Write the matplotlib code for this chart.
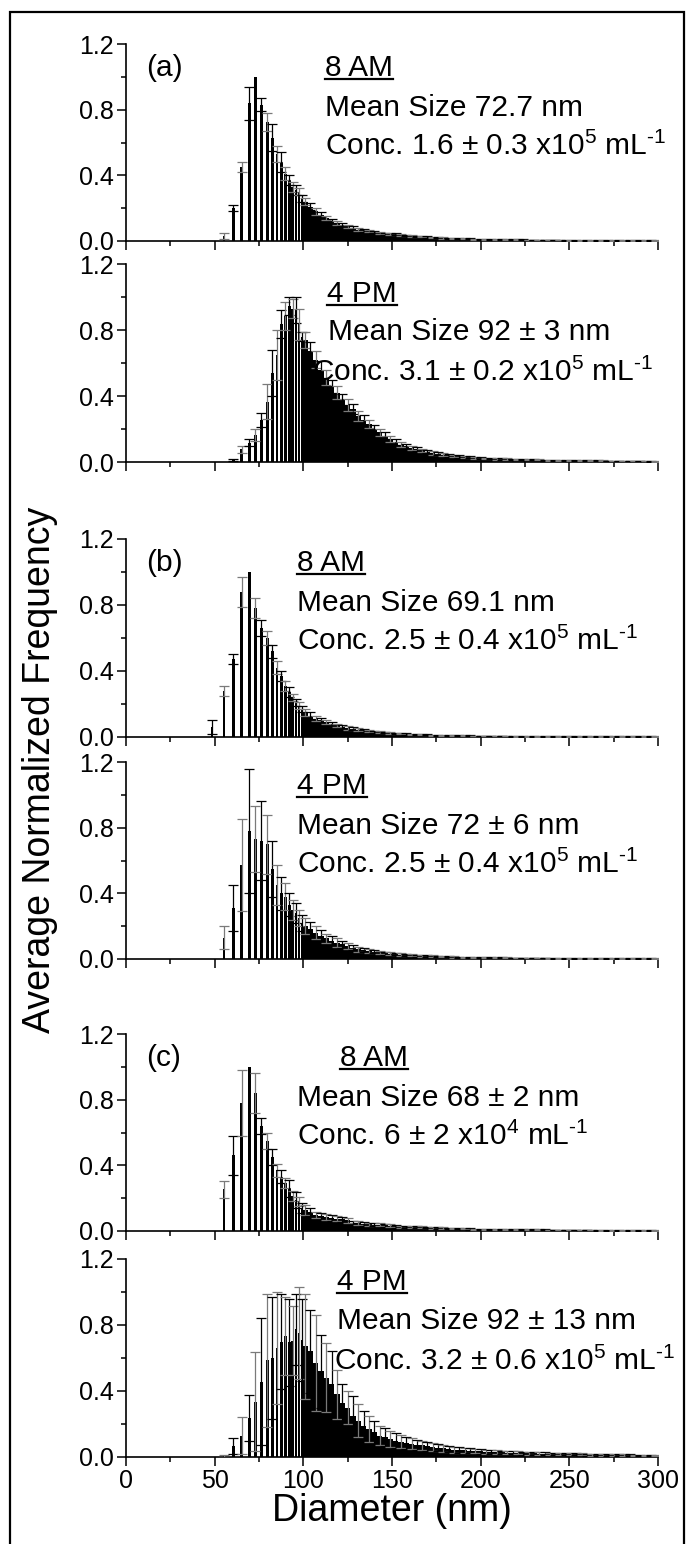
import numpy as np
import matplotlib
matplotlib.use("Agg")
import matplotlib.pyplot as plt
from matplotlib.lines import Line2D
from matplotlib.patches import Rectangle

plt.rcParams['font.family'] = ['Liberation Sans', 'DejaVu Sans']
plt.rcParams['mathtext.fontset'] = 'custom'
plt.rcParams['mathtext.rm'] = 'Liberation Sans'
plt.rcParams['mathtext.it'] = 'Liberation Sans:italic'
plt.rcParams['mathtext.bf'] = 'Liberation Sans:bold'

# ---------------- data ----------------
# populated size bins below 100 nm (nm)
low_d = [48.5, 55.3, 60.5, 65.2, 69.5, 72.9, 76.3, 79.7, 82.5, 85.1, 87.6,
         89.8, 92.1, 94.0, 95.9, 97.6, 99.3]
# tail bins from 101 nm to 299 nm, 3 nm apart
tail_d = list(range(101, 300, 3))

a8_low = [0.0, 0.03, 0.20, 0.45, 0.84, 1.00, 0.83, 0.725, 0.63, 0.53, 0.48,
          0.41, 0.37, 0.33, 0.31, 0.30, 0.26]
a8_low_err = [0.0, 0.02, 0.02, 0.03, 0.10, 0.0, 0.04, 0.055, 0.08, 0.05, 0.06,
              0.04, 0.03, 0.03, 0.03, 0.02, 0.02]
a8_tail = [0.24, 0.21, 0.18, 0.16, 0.14, 0.12, 0.11, 0.10, 0.09, 0.08, 0.07, 0.065,
           0.06, 0.055, 0.05, 0.045, 0.042, 0.04, 0.036, 0.033, 0.03, 0.028, 0.026,
           0.024, 0.022, 0.02, 0.019, 0.018, 0.016, 0.015, 0.014, 0.013, 0.012, 0.011,
           0.011, 0.010, 0.010, 0.009, 0.009, 0.008, 0.008, 0.008, 0.007, 0.007, 0.007,
           0.006, 0.006, 0.006, 0.006, 0.005, 0.005, 0.005, 0.005, 0.005, 0.004, 0.004,
           0.004, 0.004, 0.004, 0.004, 0.003, 0.003, 0.003, 0.003, 0.003, 0.003, 0.003]
a8_tail_err = [0.02, 0.02, 0.02, 0.015, 0.015, 0.012, 0.012, 0.01, 0.01, 0.01, 0.008,
               0.008, 0.008, 0.007, 0.007, 0.006, 0.006, 0.006, 0.005, 0.005, 0.005,
               0.005, 0.004, 0.004, 0.004, 0.004, 0.004, 0.003, 0.003, 0.003, 0.003,
               0.003, 0.003, 0.003, 0.003, 0.003, 0.003, 0.002, 0.002, 0.002, 0.002,
               0.002, 0.002, 0.002, 0.002, 0.002, 0.002, 0.002, 0.002, 0.002, 0.002,
               0.002, 0.002, 0.002, 0.002, 0.002, 0.002, 0.002, 0.002, 0.002, 0.002,
               0.002, 0.002, 0.002, 0.002, 0.002, 0.002]

a4_low = [0.0, 0.0, 0.012, 0.077, 0.117, 0.165, 0.255, 0.365, 0.54, 0.65, 0.835,
          0.885, 0.945, 0.93, 0.92, 0.835, 0.76]
a4_low_err = [0.0, 0.0, 0.008, 0.02, 0.023, 0.035, 0.04, 0.105, 0.14, 0.15, 0.085,
              0.085, 0.055, 0.06, 0.08, 0.095, 0.025]
a4_tail = [0.74, 0.67, 0.62, 0.56, 0.51, 0.46, 0.42, 0.38, 0.345, 0.32, 0.28, 0.255,
           0.23, 0.20, 0.18, 0.16, 0.14, 0.12, 0.105, 0.095, 0.085, 0.077, 0.07, 0.062,
           0.055, 0.05, 0.045, 0.04, 0.037, 0.034, 0.031, 0.028, 0.026, 0.024,
           0.022, 0.021, 0.02, 0.019, 0.018, 0.017, 0.016, 0.015, 0.014, 0.014, 0.013,
           0.012, 0.012, 0.011, 0.011, 0.010, 0.010, 0.009, 0.009, 0.009, 0.008, 0.008,
           0.008, 0.007, 0.007, 0.007, 0.007, 0.006, 0.006, 0.006, 0.006, 0.005, 0.005]
a4_tail_err = [0.05, 0.06, 0.05, 0.05, 0.045, 0.04, 0.04, 0.035, 0.035, 0.03, 0.03,
               0.03, 0.025, 0.025, 0.02, 0.02, 0.02, 0.018, 0.015, 0.015, 0.012, 0.012,
               0.01, 0.01, 0.01, 0.008, 0.008, 0.008, 0.007, 0.007, 0.006, 0.006, 0.006,
               0.005, 0.005, 0.005, 0.005, 0.004, 0.004, 0.004, 0.004, 0.004, 0.003,
               0.003, 0.003, 0.003, 0.003, 0.003, 0.003, 0.003, 0.003, 0.002, 0.002,
               0.002, 0.002, 0.002, 0.002, 0.002, 0.002, 0.002, 0.002, 0.002, 0.002,
               0.002, 0.002, 0.002, 0.002]

b8_low = [0.06, 0.28, 0.47, 0.88, 1.00, 0.78, 0.66, 0.60, 0.52, 0.42, 0.37,
          0.31, 0.27, 0.24, 0.21, 0.19, 0.17]
b8_low_err = [0.04, 0.03, 0.03, 0.09, 0.0, 0.06, 0.05, 0.04, 0.04, 0.04, 0.03,
              0.03, 0.03, 0.02, 0.02, 0.02, 0.02]
b8_tail = [0.15, 0.13, 0.11, 0.10, 0.09, 0.08, 0.07, 0.06, 0.055, 0.05, 0.045, 0.04,
           0.036, 0.032, 0.03, 0.027, 0.025, 0.022, 0.02, 0.018, 0.017, 0.015, 0.014,
           0.013, 0.012, 0.011, 0.010, 0.010, 0.009, 0.009, 0.008, 0.008, 0.007, 0.007,
           0.007, 0.006, 0.006, 0.006, 0.006, 0.005, 0.005, 0.005, 0.005, 0.005, 0.004,
           0.004, 0.004, 0.004, 0.004, 0.004, 0.003, 0.003, 0.003, 0.003, 0.003, 0.003,
           0.003, 0.003, 0.002, 0.002, 0.002, 0.002, 0.002, 0.002, 0.002, 0.002, 0.002]
b8_tail_err = [0.02, 0.02, 0.015, 0.015, 0.012, 0.012, 0.01, 0.01, 0.01, 0.008, 0.008,
               0.007, 0.007, 0.006, 0.006, 0.005, 0.005, 0.005, 0.004, 0.004, 0.004,
               0.004, 0.003, 0.003, 0.003, 0.003, 0.003, 0.003, 0.003, 0.002, 0.002,
               0.002, 0.002, 0.002, 0.002, 0.002, 0.002, 0.002, 0.002, 0.002, 0.002,
               0.002, 0.002, 0.002, 0.002, 0.002, 0.002, 0.002, 0.002, 0.002, 0.002,
               0.002, 0.002, 0.002, 0.002, 0.002, 0.002, 0.002, 0.002, 0.002, 0.002,
               0.002, 0.002, 0.002, 0.002, 0.002, 0.002]

b4_low = [0.0, 0.13, 0.31, 0.57, 0.78, 0.73, 0.72, 0.70, 0.55, 0.45, 0.40,
          0.38, 0.33, 0.30, 0.28, 0.25, 0.22]
b4_low_err = [0.0, 0.07, 0.14, 0.28, 0.38, 0.20, 0.24, 0.18, 0.17, 0.12, 0.10,
              0.08, 0.07, 0.06, 0.06, 0.05, 0.05]
b4_tail = [0.20, 0.18, 0.16, 0.14, 0.125, 0.11, 0.10, 0.09, 0.08, 0.07, 0.06, 0.055,
           0.05, 0.045, 0.04, 0.036, 0.032, 0.03, 0.027, 0.025, 0.023, 0.021, 0.019,
           0.018, 0.017, 0.016, 0.015, 0.014, 0.013, 0.012, 0.011, 0.011, 0.010, 0.010,
           0.009, 0.009, 0.008, 0.008, 0.008, 0.007, 0.007, 0.007, 0.006, 0.006, 0.006,
           0.006, 0.005, 0.005, 0.005, 0.005, 0.005, 0.004, 0.004, 0.004, 0.004, 0.004,
           0.004, 0.003, 0.003, 0.003, 0.003, 0.003, 0.003, 0.003, 0.003, 0.003, 0.003]
b4_tail_err = [0.05, 0.045, 0.04, 0.035, 0.03, 0.03, 0.025, 0.02, 0.02, 0.018, 0.015,
               0.014, 0.012, 0.011, 0.01, 0.009, 0.008, 0.008, 0.007, 0.007, 0.006,
               0.006, 0.005, 0.005, 0.005, 0.004, 0.004, 0.004, 0.004, 0.003, 0.003,
               0.003, 0.003, 0.003, 0.003, 0.003, 0.002, 0.002, 0.002, 0.002, 0.002,
               0.002, 0.002, 0.002, 0.002, 0.002, 0.002, 0.002, 0.002, 0.002, 0.002,
               0.002, 0.002, 0.002, 0.002, 0.002, 0.002, 0.002, 0.002, 0.002, 0.002,
               0.002, 0.002, 0.002, 0.002, 0.002, 0.002]

c8_low = [0.0, 0.254, 0.46, 0.78, 1.00, 0.84, 0.64, 0.55, 0.45, 0.37, 0.33,
          0.29, 0.26, 0.213, 0.19, 0.18, 0.14]
c8_low_err = [0.0, 0.053, 0.12, 0.20, 0.0, 0.12, 0.05, 0.05, 0.05, 0.04, 0.04,
              0.03, 0.05, 0.03, 0.05, 0.03, 0.03]
c8_tail = [0.13, 0.115, 0.097, 0.09, 0.085, 0.078, 0.075, 0.072, 0.065, 0.05, 0.046,
           0.043, 0.041, 0.039, 0.037, 0.035, 0.032, 0.028, 0.026, 0.025, 0.024, 0.023,
           0.022, 0.021, 0.02, 0.019, 0.018, 0.017, 0.016, 0.015, 0.014, 0.013, 0.012,
           0.012, 0.011, 0.011, 0.010, 0.010, 0.010, 0.009, 0.009, 0.009, 0.008, 0.008,
           0.008, 0.008, 0.007, 0.007, 0.007, 0.007, 0.006, 0.006, 0.006, 0.006, 0.006,
           0.005, 0.005, 0.005, 0.005, 0.005, 0.005, 0.004, 0.004, 0.004, 0.004, 0.004,
           0.004]
c8_tail_err = [0.03, 0.025, 0.02, 0.02, 0.02, 0.018, 0.016, 0.015, 0.014, 0.012, 0.012,
               0.011, 0.01, 0.01, 0.009, 0.009, 0.008, 0.008, 0.007, 0.007, 0.006,
               0.006, 0.006, 0.005, 0.005, 0.005, 0.005, 0.004, 0.004, 0.004, 0.004,
               0.004, 0.003, 0.003, 0.003, 0.003, 0.003, 0.003, 0.003, 0.003, 0.003,
               0.002, 0.002, 0.002, 0.002, 0.002, 0.002, 0.002, 0.002, 0.002, 0.002,
               0.002, 0.002, 0.002, 0.002, 0.002, 0.002, 0.002, 0.002, 0.002, 0.002,
               0.002, 0.002, 0.002, 0.002, 0.002, 0.002]

c4_low = [0.0, 0.005, 0.067, 0.13, 0.235, 0.335, 0.455, 0.585, 0.60, 0.66, 0.70,
          0.735, 0.695, 0.705, 0.775, 0.75, 0.71]
c4_low_err = [0.0, 0.01, 0.05, 0.11, 0.14, 0.30, 0.385, 0.405, 0.37, 0.34, 0.29,
              0.235, 0.265, 0.21, 0.215, 0.28, 0.25]
c4_tail = [0.67, 0.64, 0.57, 0.52, 0.48, 0.44, 0.38, 0.33, 0.30, 0.25, 0.22, 0.19,
           0.17, 0.15, 0.13, 0.12, 0.11, 0.10, 0.092, 0.085, 0.08, 0.075, 0.07, 0.065,
           0.06, 0.056, 0.052, 0.048, 0.045, 0.042, 0.04, 0.038, 0.036, 0.034,
           0.032, 0.03, 0.029, 0.028, 0.027, 0.026, 0.025, 0.024, 0.023, 0.022, 0.021,
           0.02, 0.02, 0.019, 0.018, 0.018, 0.017, 0.016, 0.016, 0.015, 0.015, 0.014,
           0.014, 0.013, 0.013, 0.012, 0.012, 0.012, 0.011, 0.011, 0.011, 0.010, 0.010]
c4_tail_err = [0.32, 0.25, 0.29, 0.22, 0.21, 0.20, 0.15, 0.11, 0.10, 0.12, 0.10, 0.09,
               0.08, 0.07, 0.06, 0.055, 0.05, 0.045, 0.04, 0.037, 0.034, 0.03, 0.028,
               0.026, 0.024, 0.022, 0.02, 0.019, 0.018, 0.017, 0.016, 0.015, 0.014,
               0.013, 0.012, 0.012, 0.011, 0.011, 0.010, 0.010, 0.009, 0.009, 0.009,
               0.008, 0.008, 0.008, 0.007, 0.007, 0.007, 0.007, 0.006, 0.006, 0.006,
               0.006, 0.006, 0.005, 0.005, 0.005, 0.005, 0.005, 0.005, 0.004, 0.004,
               0.004, 0.004, 0.004, 0.004]

panel_letters = ['(a)', '', '(b)', '', '(c)', '']
panel_times = ['8 AM', '4 PM', '8 AM', '4 PM', '8 AM', '4 PM']
panel_means = ['Mean Size 72.7 nm', 'Mean Size 92 \u00b1 3 nm',
               'Mean Size 69.1 nm', 'Mean Size 72 \u00b1 6 nm',
               'Mean Size 68 \u00b1 2 nm', 'Mean Size 92 \u00b1 13 nm']
panel_concs = ['Conc. 1.6 \u00b1 0.3 x10$^{5}$ mL$^{\u20101}$',
               'Conc. 3.1 \u00b1 0.2 x10$^{5}$ mL$^{\u20101}$',
               'Conc. 2.5 \u00b1 0.4 x10$^{5}$ mL$^{\u20101}$',
               'Conc. 2.5 \u00b1 0.4 x10$^{5}$ mL$^{\u20101}$',
               'Conc. 6 \u00b1 2 x10$^{4}$ mL$^{\u20101}$',
               'Conc. 3.2 \u00b1 0.6 x10$^{5}$ mL$^{\u20101}$']

series = [(a8_low, a8_low_err, a8_tail, a8_tail_err),
          (a4_low, a4_low_err, a4_tail, a4_tail_err),
          (b8_low, b8_low_err, b8_tail, b8_tail_err),
          (b4_low, b4_low_err, b4_tail, b4_tail_err),
          (c8_low, c8_low_err, c8_tail, c8_tail_err),
          (c4_low, c4_low_err, c4_tail, c4_tail_err)]

x_ticks = [0, 50, 100, 150, 200, 250, 300]
y_ticks = [0.0, 0.4, 0.8, 1.2]
y_ticklabels = ['0.0', '0.4', '0.8', '1.2']

# ---------------- layout (pixels) ----------------
W, H = 691, 1544
fig = plt.figure(figsize=(W / 100, H / 100), dpi=100)
panel_px = [(44, 241), (264, 462), (539, 737), (762, 959), (1034, 1231), (1259, 1457)]
left_px, right_px = 126, 658
# left edge of (time, mean, conc) texts, pixels
text_x_px = [(325, 325, 325), (327, 328, 312), (297, 297, 297),
             (297, 297, 297), (340, 297, 297), (337, 337, 334)]
# baselines of (time, mean, conc) below panel top, pixels
text_y_px = [(32, 72, 111), (38, 76, 117), (32, 72, 111),
             (32, 72, 111), (32, 72, 111), (31, 70, 111)]

fig.add_artist(Rectangle((10 / W, -0.01), (684 - 10) / W, 1.01 - 12 / H,
                         transform=fig.transFigure, fill=False, lw=1.6,
                         edgecolor='black'))

tick_fs = 18
ann_fs = 21.5
lab_fs = 27

time_texts = []
axes = []
for i, (top, bot) in enumerate(panel_px):
    ax = fig.add_axes([left_px / W, 1 - bot / H, (right_px - left_px) / W, (bot - top) / H])
    axes.append(ax)
    lv, le, tv, te = series[i]
    ax.bar(low_d, lv, width=1.5, color='black', linewidth=0, zorder=2)
    ax.bar(tail_d, tv, width=3.0, color='black', linewidth=0, zorder=2)
    xs = list(low_d) + list(tail_d)
    ys = list(lv) + list(tv)
    es = list(le) + list(te)
    for k, (x, y, e) in enumerate(zip(xs, ys, es)):
        if e <= 0 or y <= 0:
            continue
        col = 'black' if k % 2 == 0 else '#7a7a7a'
        ax.errorbar([x], [y], yerr=[e], fmt='none', ecolor=col, elinewidth=0.9,
                    capsize=3.6, capthick=0.9, zorder=3)
    ax.set_xlim(0, 300)
    ax.set_ylim(0, 1.2)
    for s in ['top', 'right']:
        ax.spines[s].set_visible(False)
    for s in ['left', 'bottom']:
        ax.spines[s].set_linewidth(1.2)
    ax.set_yticks(y_ticks)
    ax.set_yticklabels(y_ticklabels)
    ax.set_yticks([0.2, 0.6, 1.0], minor=True)
    ax.set_xticks(x_ticks)
    ax.set_xticks([25, 75, 125, 175, 225, 275], minor=True)
    ax.tick_params(which='major', direction='out', length=6.5, width=1.1,
                   labelsize=tick_fs, pad=2)
    ax.tick_params(which='minor', direction='out', length=3.5, width=1.1)
    if i < 5:
        ax.tick_params(axis='x', labelbottom=False)
    else:
        ax.set_xlabel('Diameter (nm)', fontsize=lab_fs, labelpad=0)
    ax.patch.set_alpha(0)

    hpx = bot - top

    def fy(py, top=top, hpx=hpx):
        return 1 - (py - top) / hpx

    def fx(px):
        return (px - left_px) / (right_px - left_px)

    if panel_letters[i]:
        ax.text(fx(146), fy(top + 24), panel_letters[i], fontsize=ann_fs,
                ha='left', va='center', transform=ax.transAxes)
    tx = text_x_px[i]
    ty = text_y_px[i]
    t = ax.text(fx(tx[0]), fy(top + ty[0]), panel_times[i], fontsize=ann_fs,
                ha='left', va='baseline', transform=ax.transAxes, zorder=5)
    time_texts.append((t, top + ty[0]))
    ax.text(fx(tx[1]), fy(top + ty[1]), panel_means[i], fontsize=ann_fs,
            ha='left', va='baseline', transform=ax.transAxes, zorder=5)
    ax.text(fx(tx[2]), fy(top + ty[2]), panel_concs[i], fontsize=ann_fs,
            ha='left', va='baseline', transform=ax.transAxes, zorder=5)

fig.text(40 / W, 1 - 770 / H, 'Average Normalized Frequency', rotation=90,
         fontsize=lab_fs, ha='center', va='center')

# underline the time labels
fig.canvas.draw()
renderer = fig.canvas.get_renderer()
for t, base_px in time_texts:
    bb = t.get_window_extent(renderer)
    yline = 1 - (base_px + 3) / H
    fig.add_artist(Line2D([bb.x0 / W, bb.x1 / W], [yline, yline],
                          transform=fig.transFigure, color='black', lw=1.6))

fig.savefig('out.png', dpi=100)
